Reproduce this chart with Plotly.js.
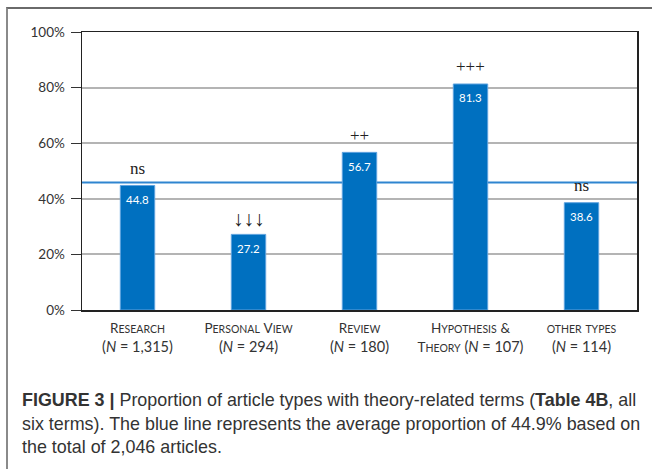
<!DOCTYPE html>
<html>
<head>
<meta charset="utf-8">
<script src="https://cdn.plot.ly/plotly-3.0.1.min.js"></script>
<style>
  html, body { margin: 0; padding: 0; background: #fff; }
  #wrap { position: relative; width: 652px; height: 469px; overflow: hidden; }
  #frame { position: absolute; left: 6px; top: 7px; width: 700px; height: 500px;
           border-left: 2px solid #8a8a8a; border-top: 2px solid #6a6a6a; z-index: 0; }
  #chart { position: absolute; left: 0; top: 0; width: 652px; height: 469px; z-index: 1; }
</style>
</head>
<body>
<div id="wrap">
  <div id="frame"></div>
  <div id="chart"></div>
</div>
<script>
// ---- data ----
const categories = ['Research', 'Personal View', 'Review', 'Hypothesis & Theory', 'Other types'];
const labelLine1 = ['Research', 'Personal View', 'Review', 'Hypothesis &', 'other types'];
const labelLine2Prefix = ['', '', '', 'Theory', ''];
const sampleN = ['1,315', '294', '180', '107', '114'];
const proportions = [44.8, 27.2, 56.7, 81.3, 38.6];
const significance = ['ns', '↓↓↓', '++', '+++', 'ns'];
const averageLine = 45.9;
const yTickVals = [0, 20, 40, 60, 80, 100];
const darkGrid = [40, 80];
const captionLines = [
  '<b>FIGURE 3 |</b> Proportion of article types with theory-related terms (<b>Table 4B</b>, all',
  'six terms). The blue line represents the average proportion of 44.9% based on',
  'the total of 2,046 articles.'
];

// ---- helpers ----
function esc(s) { return s.replace(/&/g, '&amp;'); }
function smallCaps(text) {
  if (!text) return '';
  return text.split(' ').map(w => {
    const first = w[0];
    const rest = w.slice(1);
    const isLetter = /[A-Za-z]/.test(first);
    if (!isLetter || first === first.toUpperCase()) {
      return '<span style="font-size:13.5px">' + esc(first) + '</span>' +
             (rest ? '<span style="font-size:10.5px">' + esc(rest.toUpperCase()) + '</span>' : '');
    }
    return '<span style="font-size:10.5px">' + esc(w.toUpperCase()) + '</span>';
  }).join(' ');
}
const tickText = labelLine1.map((l1, i) => {
  const pre = labelLine2Prefix[i] ? smallCaps(labelLine2Prefix[i]) + ' ' : '';
  return smallCaps(l1) + '<br>' + pre + '(<i>N</i> = ' + sampleN[i] + ')';
});

const trace = {
  type: 'bar',
  x: categories,
  y: proportions,
  width: 0.31,
  marker: { color: '#0070C0', line: { color: '#5FA3DF', width: 1 } },
  hoverinfo: 'none'
};

const shapes = [];
darkGrid.forEach(v => shapes.push({
  type: 'line', xref: 'paper', yref: 'y', x0: 0, x1: 1, y0: v, y1: v,
  line: { color: '#444', width: 1 }, layer: 'below'
}));
shapes.push({
  type: 'line', xref: 'paper', yref: 'y', x0: 0, x1: 1, y0: averageLine, y1: averageLine,
  line: { color: '#2F85D0', width: 2 }, layer: 'below'
});

const annotations = [];
categories.forEach((c, i) => {
  annotations.push({
    x: c, y: proportions[i], xref: 'x', yref: 'y',
    text: proportions[i].toFixed(1), showarrow: false,
    yanchor: 'middle', yshift: -14,
    font: { family: 'Lato, sans-serif', size: 11.5, color: '#ffffff' }
  });
  const isArrow = significance[i].indexOf('↓') >= 0;
  annotations.push({
    x: c, y: proportions[i], xref: 'x', yref: 'y',
    text: significance[i], showarrow: false,
    yanchor: 'middle', yshift: isArrow ? 15 : 17,
    font: { family: isArrow ? 'Liberation Serif, serif' : 'Liberation Serif, serif',
            size: isArrow ? 21 : 17, color: '#222' }
  });
});
const captionY = [400, 424, 447];
captionLines.forEach((t, i) => {
  annotations.push({
    xref: 'paper', yref: 'paper',
    x: (20 - 82) / (637 - 82), y: (469 - 159 - captionY[i]) / (469 - 32 - 159),
    xanchor: 'left', yanchor: 'middle', showarrow: false, align: 'left',
    text: t,
    font: { family: 'Liberation Sans, Arial, sans-serif', size: 17.9, color: '#333' }
  });
});

const layout = {
  width: 652, height: 469,
  margin: { l: 82, r: 15, t: 32, b: 159 },
  paper_bgcolor: 'rgba(0,0,0,0)',
  plot_bgcolor: 'rgba(0,0,0,0)',
  showlegend: false,
  bargap: 0.69,
  xaxis: {
    type: 'category',
    tickvals: categories, ticktext: tickText,
    showline: true, mirror: true, linecolor: '#222', linewidth: 1.5,
    ticks: '', showgrid: false, zeroline: false,
    ticklabelstandoff: 4,
    tickfont: { family: 'Lato, sans-serif', size: 14.5, color: '#333' },
    fixedrange: true
  },
  yaxis: {
    range: [0, 100],
    tickvals: yTickVals, ticktext: yTickVals.map(v => v + '%'),
    showline: true, mirror: true, linecolor: '#222', linewidth: 1.5,
    ticks: 'outside', ticklen: 10, tickcolor: '#333', tickwidth: 1,
    ticklabelstandoff: 3,
    showgrid: true, gridcolor: '#b4b4b4', gridwidth: 2,
    zeroline: false,
    tickfont: { family: 'Lato, sans-serif', size: 13.5, color: '#333' },
    fixedrange: true
  },
  shapes: shapes,
  annotations: annotations
};

Plotly.newPlot('chart', [trace], layout, { displayModeBar: false, staticPlot: true });
</script>
</body>
</html>
